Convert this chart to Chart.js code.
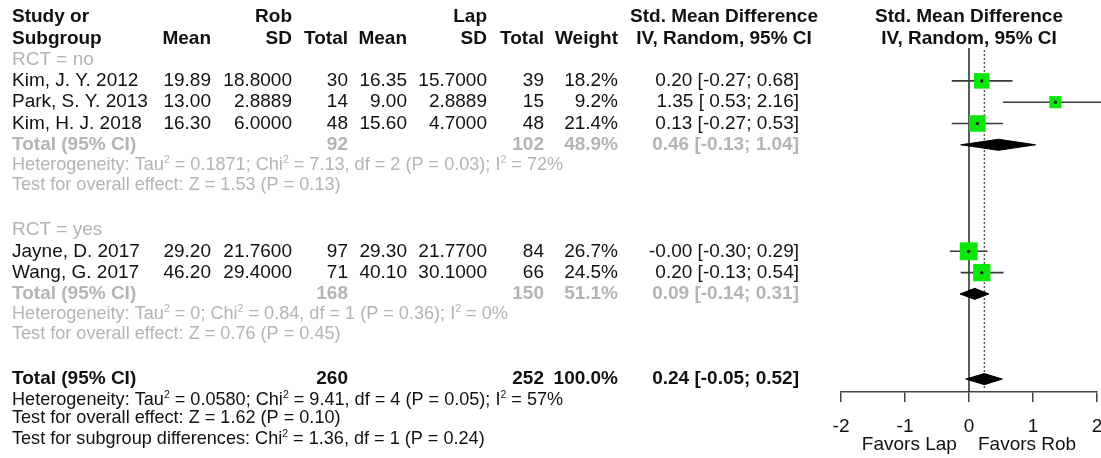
<!DOCTYPE html>
<html><head><meta charset="utf-8">
<script src="https://cdn.jsdelivr.net/npm/chart.js@4.4.1/dist/chart.umd.min.js"></script>
<style>html,body{margin:0;padding:0;background:#fff;overflow:hidden}canvas{display:block}</style>
</head><body><canvas id="c" width="1101" height="458"></canvas>
<script>
// ---------------- data ----------------
const studyNames = ['Kim, J. Y. 2012', 'Park, S. Y. 2013', 'Kim, H. J. 2018', 'Jayne, D. 2017', 'Wang, G. 2017'];
const robMean = [19.89, 13.00, 16.30, 29.20, 46.20];
const robSD = [18.8, 2.8889, 6.0, 21.76, 29.4];
const robTotal = [30, 14, 48, 97, 71];
const lapMean = [16.35, 9.00, 15.60, 29.30, 40.10];
const lapSD = [15.7, 2.8889, 4.7, 21.77, 30.1];
const lapTotal = [39, 15, 48, 84, 66];
const weights = [18.2, 9.2, 21.4, 26.7, 24.5];
const smd = [0.20, 1.35, 0.13, -0.0046, 0.20];
const ciLow = [-0.27, 0.53, -0.27, -0.30, -0.13];
const ciHigh = [0.68, 2.16, 0.53, 0.29, 0.54];

const groupLabels = ['RCT = no', 'RCT = yes'];
const groupRobTotal = [92, 168];
const groupLapTotal = [102, 150];
const groupWeight = [48.9, 51.1];
const groupSmd = [0.46, 0.09];
const groupLow = [-0.13, -0.14];
const groupHigh = [1.04, 0.31];
const groupHet = ['Heterogeneity: Tau² = 0.1871; Chi² = 7.13, df = 2 (P = 0.03); I² = 72%',
                  'Heterogeneity: Tau² = 0; Chi² = 0.84, df = 1 (P = 0.36); I² = 0%'];
const groupEffect = ['Test for overall effect: Z = 1.53 (P = 0.13)',
                     'Test for overall effect: Z = 0.76 (P = 0.45)'];

const totalRob = [260];
const totalLap = [252];
const totalWeight = [100.0];
const totalSmd = [0.24];
const totalLow = [-0.05];
const totalHigh = [0.52];
const totalHet = ['Heterogeneity: Tau² = 0.0580; Chi² = 9.41, df = 4 (P = 0.05); I² = 57%'];
const totalEffect = ['Test for overall effect: Z = 1.62 (P = 0.10)'];
const subgroupTest = ['Test for subgroup differences: Chi² = 1.36, df = 1 (P = 0.24)'];

const xTicks = [-2, -1, 0, 1, 2];
const xTitle = 'Favors Lap    Favors Rob';

// ---------------- layout (rows / columns) ----------------
const studyRow = [3, 4, 5, 11, 12];
const groupHeadRow = [2, 10];
const groupTotalRow = [6, 13];
const groupHetRow = [6.95, 13.95];
const groupEffRow = [7.9, 14.9];
const totalRow = 17, totalHetRow = 17.98, totalEffRow = 18.85, subgroupRow = 19.8;
const COL = {name: 12, robMean: 211, robSD: 292, robN: 348, lapMean: 407, lapSD: 487, lapN: 544, weight: 618, ci: 799, ciHead: 724};
const FONT = '"Liberation Sans", Arial, Helvetica, sans-serif';
const GRAY = '#b4b4b4', BLACK = '#111';
const DH = 0.26; // diamond half-height in row units
const MAIN = 19, NOTE = 18.1;

function fmtCI(e, lo, hi) {
  const f = v => v.toFixed(2);
  return f(e) + ' [' + (lo < 0 ? '' : ' ') + f(lo) + '; ' + f(hi) + ']';
}

function drawRich(ctx, text, x, y, align, bold, color, size) {
  size = size || MAIN;
  const main = (bold ? 'bold ' : '') + size + 'px ' + FONT;
  const sup = (bold ? 'bold ' : '') + (size * 0.58).toFixed(1) + 'px ' + FONT;
  const parts = String(text).split('²');
  let w = 0;
  parts.forEach((p, i) => {
    ctx.font = main; w += ctx.measureText(p).width;
    if (i < parts.length - 1) { ctx.font = sup; w += ctx.measureText('2').width; }
  });
  let cx = align === 'right' ? x - w : align === 'center' ? x - w / 2 : x;
  ctx.fillStyle = color; ctx.textBaseline = 'middle'; ctx.textAlign = 'left';
  parts.forEach((p, i) => {
    ctx.font = main; ctx.fillText(p, cx, y); cx += ctx.measureText(p).width;
    if (i < parts.length - 1) { ctx.font = sup; ctx.fillText('2', cx, y - size * 0.25); cx += ctx.measureText('2').width; }
  });
}

const tablePlugin = {
  id: 'forestTable',
  afterDraw(chart) {
    const ctx = chart.ctx, ys = chart.scales.y, ca = chart.chartArea;
    const Y = r => ys.getPixelForValue(r);
    const plotC = (ca.left + ca.right) / 2;
    ctx.save();
    // headers
    drawRich(ctx, 'Study or', COL.name, Y(0), 'left', true, BLACK);
    drawRich(ctx, 'Rob', COL.robSD, Y(0), 'right', true, BLACK);
    drawRich(ctx, 'Lap', COL.lapSD, Y(0), 'right', true, BLACK);
    drawRich(ctx, 'Std. Mean Difference', COL.ciHead, Y(0), 'center', true, BLACK);
    drawRich(ctx, 'Std. Mean Difference', plotC, Y(0), 'center', true, BLACK);
    drawRich(ctx, 'Subgroup', COL.name, Y(1), 'left', true, BLACK);
    drawRich(ctx, 'Mean', COL.robMean, Y(1), 'right', true, BLACK);
    drawRich(ctx, 'SD', COL.robSD, Y(1), 'right', true, BLACK);
    drawRich(ctx, 'Total', COL.robN, Y(1), 'right', true, BLACK);
    drawRich(ctx, 'Mean', COL.lapMean, Y(1), 'right', true, BLACK);
    drawRich(ctx, 'SD', COL.lapSD, Y(1), 'right', true, BLACK);
    drawRich(ctx, 'Total', COL.lapN, Y(1), 'right', true, BLACK);
    drawRich(ctx, 'Weight', COL.weight, Y(1), 'right', true, BLACK);
    drawRich(ctx, 'IV, Random, 95% CI', COL.ciHead, Y(1), 'center', true, BLACK);
    drawRich(ctx, 'IV, Random, 95% CI', plotC, Y(1), 'center', true, BLACK);
    // studies
    studyNames.forEach((n, i) => {
      const y = Y(studyRow[i]);
      drawRich(ctx, n, COL.name, y, 'left', false, BLACK);
      drawRich(ctx, robMean[i].toFixed(2), COL.robMean, y, 'right', false, BLACK);
      drawRich(ctx, robSD[i].toFixed(4), COL.robSD, y, 'right', false, BLACK);
      drawRich(ctx, String(robTotal[i]), COL.robN, y, 'right', false, BLACK);
      drawRich(ctx, lapMean[i].toFixed(2), COL.lapMean, y, 'right', false, BLACK);
      drawRich(ctx, lapSD[i].toFixed(4), COL.lapSD, y, 'right', false, BLACK);
      drawRich(ctx, String(lapTotal[i]), COL.lapN, y, 'right', false, BLACK);
      drawRich(ctx, weights[i].toFixed(1) + '%', COL.weight, y, 'right', false, BLACK);
      drawRich(ctx, fmtCI(smd[i], ciLow[i], ciHigh[i]), COL.ci, y, 'right', false, BLACK);
    });
    // groups
    groupLabels.forEach((g, i) => {
      drawRich(ctx, g, COL.name, Y(groupHeadRow[i]), 'left', false, GRAY);
      const y = Y(groupTotalRow[i]);
      drawRich(ctx, 'Total (95% CI)', COL.name, y, 'left', true, GRAY);
      drawRich(ctx, String(groupRobTotal[i]), COL.robN, y, 'right', true, GRAY);
      drawRich(ctx, String(groupLapTotal[i]), COL.lapN, y, 'right', true, GRAY);
      drawRich(ctx, groupWeight[i].toFixed(1) + '%', COL.weight, y, 'right', true, GRAY);
      drawRich(ctx, fmtCI(groupSmd[i], groupLow[i], groupHigh[i]), COL.ci, y, 'right', true, GRAY);
      drawRich(ctx, groupHet[i], COL.name, Y(groupHetRow[i]), 'left', false, GRAY, NOTE);
      drawRich(ctx, groupEffect[i], COL.name, Y(groupEffRow[i]), 'left', false, GRAY, NOTE);
    });
    // overall
    const y = Y(totalRow);
    drawRich(ctx, 'Total (95% CI)', COL.name, y, 'left', true, BLACK);
    drawRich(ctx, String(totalRob[0]), COL.robN, y, 'right', true, BLACK);
    drawRich(ctx, String(totalLap[0]), COL.lapN, y, 'right', true, BLACK);
    drawRich(ctx, totalWeight[0].toFixed(1) + '%', COL.weight, y, 'right', true, BLACK);
    drawRich(ctx, fmtCI(totalSmd[0], totalLow[0], totalHigh[0]), COL.ci, y, 'right', true, BLACK);
    drawRich(ctx, totalHet[0], COL.name, Y(totalHetRow), 'left', false, BLACK, NOTE);
    drawRich(ctx, totalEffect[0], COL.name, Y(totalEffRow), 'left', false, BLACK, NOTE);
    drawRich(ctx, subgroupTest[0], COL.name, Y(subgroupRow), 'left', false, BLACK, NOTE);
    ctx.restore();
  }
};

// ---------------- datasets ----------------
const datasets = [];
// center dots
datasets.push({type: 'scatter', order: 0, data: smd.map((v, i) => ({x: v, y: studyRow[i]})),
  pointStyle: 'circle', pointRadius: 1.6, pointBorderWidth: 0, backgroundColor: '#111'});
// squares
datasets.push({type: 'scatter', order: 1, data: smd.map((v, i) => ({x: v, y: studyRow[i]})),
  pointStyle: 'rect', pointBorderWidth: 0, backgroundColor: '#0be60b',
  pointRadius: c => (4 + 2.7 * Math.sqrt(weights[c.dataIndex])) / Math.SQRT2});
// CI lines
smd.forEach((v, i) => {
  datasets.push({type: 'line', order: 2, clip: false,
    data: [{x: ciLow[i], y: studyRow[i]}, {x: ciHigh[i], y: studyRow[i]}],
    borderColor: '#3a3a3a', borderWidth: 1.6, pointRadius: 0, tension: 0, fill: false});
});
// diamonds
function diamond(e, lo, hi, r) {
  return {type: 'line', order: 2, fill: 'shape', backgroundColor: '#000', borderColor: '#000',
    borderWidth: 1, pointRadius: 0, tension: 0,
    data: [{x: lo, y: r}, {x: e, y: r - DH}, {x: hi, y: r}, {x: e, y: r + DH}, {x: lo, y: r}]};
}
groupSmd.forEach((e, i) => datasets.push(diamond(e, groupLow[i], groupHigh[i], groupTotalRow[i])));
datasets.push(diamond(totalSmd[0], totalLow[0], totalHigh[0], totalRow));
// zero line
datasets.push({type: 'line', order: 5, data: [{x: 0, y: 1.46}, {x: 0, y: 17.606}],
  borderColor: '#333', borderWidth: 1.6, pointRadius: 0, fill: false});
// overall effect dotted line
datasets.push({type: 'line', order: 6, data: [{x: totalSmd[0], y: 1.55}, {x: totalSmd[0], y: 17.5}],
  borderColor: '#555', borderWidth: 1.4, borderDash: [2, 2], pointRadius: 0, fill: false});

Chart.defaults.font.family = FONT;
new Chart(document.getElementById('c'), {
  type: 'scatter',
  data: {datasets},
  options: {
    responsive: false, animation: false, events: [],
    layout: {autoPadding: false, padding: {left: 841, right: 4, top: 0, bottom: 0}},
    plugins: {legend: {display: false}, tooltip: {enabled: false}},
    scales: {
      x: {
        type: 'linear', position: 'bottom', min: -2, max: 2,
        afterBuildTicks: s => { s.ticks = xTicks.map(v => ({value: v})); },
        afterFit: s => { s.height = 66; s.paddingLeft = 0; s.paddingRight = 0; },
        grid: {drawOnChartArea: false, drawTicks: true, tickLength: 10, color: '#444', lineWidth: 1.5},
        border: {display: true, color: '#444', width: 1.5},
        ticks: {font: {size: 19}, color: '#111', padding: 13, maxRotation: 0, autoSkip: false,
                callback: v => String(v)},
        title: {display: true, text: xTitle, font: {size: 19}, color: '#111', padding: {top: 0, bottom: 2}}
      },
      y: {type: 'linear', display: false, reverse: true, min: -0.798, max: 17.606}
    }
  },
  plugins: [tablePlugin]
});
</script></body></html>
